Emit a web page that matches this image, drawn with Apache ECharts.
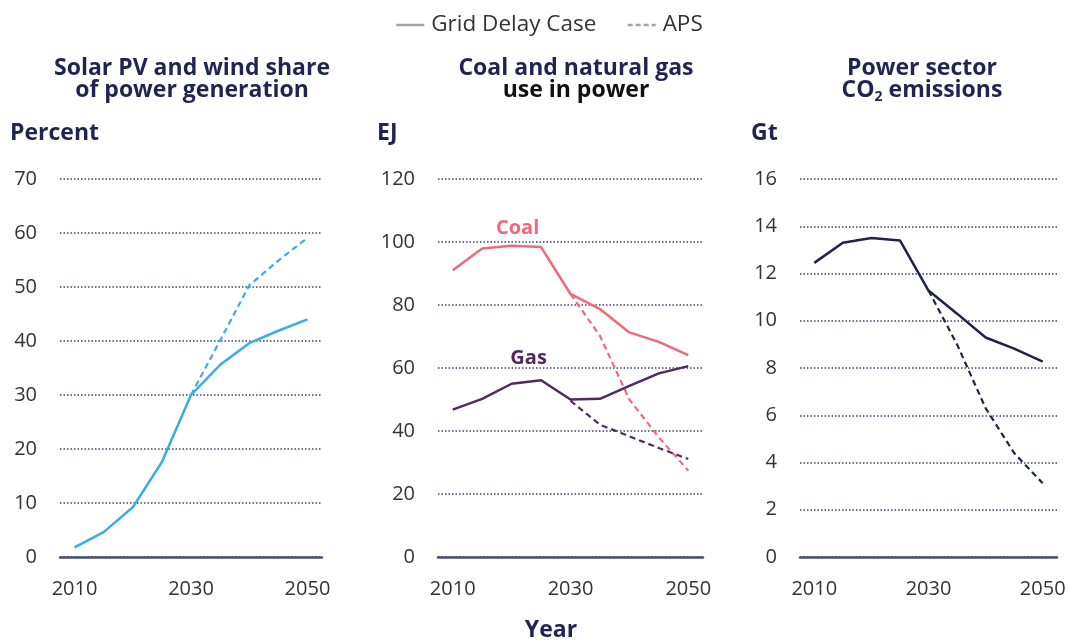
<!DOCTYPE html>
<html><head><meta charset="utf-8">
<script src="https://cdn.jsdelivr.net/npm/echarts@6/dist/echarts.min.js"></script>
<style>html,body{margin:0;padding:0;background:#fff}#c{width:1073px;height:641px}</style>
</head><body><div id="c"></div>
<script>
var years = ['2010','2015','2020','2025','2030','2035','2040','2045','2050'];
var solarGrid = [1.8, 4.6, 9.2, 17.6, 30.0, 35.6, 39.6, 41.9, 44.0];
var solarAPS  = [null, null, null, null, 30.0, 40.1, 50.3, 54.9, 59.1];
var coalGrid  = [91.0, 97.9, 98.8, 98.4, 83.5, 78.7, 71.3, 68.3, 64.1];
var coalAPS   = [null, null, null, null, 83.5, 70.2, 50.0, 38.0, 27.4];
var gasGrid   = [46.8, 50.2, 55.0, 56.1, 50.0, 50.2, 54.3, 58.3, 60.6];
var gasAPS    = [null, null, null, null, 49.6, 42.0, 38.3, 34.6, 31.1];
var co2Grid   = [12.45, 13.3, 13.5, 13.4, 11.28, 10.3, 9.29, 8.82, 8.27];
var co2APS    = [null, null, null, null, 11.28, 9.0, 6.3, 4.4, 3.12];
var yTicks1 = {min:0, max:70, interval:10};
var yTicks2 = {min:0, max:120, interval:20};
var yTicks3 = {min:0, max:16, interval:2};

var FONT = 'Open Sans';
var NAVY = '#1f2451';
var C_SOLAR = '#3aaee3', C_COAL = '#f0697a', C_GAS = '#4d2a5f', C_CO2 = '#1f2447';

var chart = echarts.init(document.getElementById('c'), null, {renderer:'canvas'});

var grids = [
  {left:60, width:262, top:179, bottom:84},
  {left:438, width:265, top:179, bottom:84},
  {left:800, width:257, top:179, bottom:84}
];
function xAxis(i){
  return {type:'category', gridIndex:i, data:years, boundaryGap:true,
    axisLine:{show:true, lineStyle:{color:'#4a4e70', width:2.5}},
    axisTick:{show:false},
    axisLabel:{interval:3, margin:22, color:'#333', fontFamily:FONT, fontSize:20},
    splitLine:{show:false}};
}
function yAxis(i, t){
  return {type:'value', gridIndex:i, min:t.min, max:t.max, interval:t.interval,
    axisLine:{show:false}, axisTick:{show:false},
    axisLabel:{margin:23, color:'#333', fontFamily:FONT, fontSize:20},
    splitLine:{show:true, lineStyle:{color:'#3c4170', width:1.5, type:[1.5,2]}}};
}
function solid(data, color, idx, mark){
  var s = {type:'line', name:'Grid Delay Case', xAxisIndex:idx, yAxisIndex:idx, data:data,
    symbol:'none', lineStyle:{color:color, width:2.5}, itemStyle:{color:color}, z:3};
  if (mark) s.markPoint = mark;
  return s;
}
function dashed(data, color, idx){
  return {type:'line', name:'APS', xAxisIndex:idx, yAxisIndex:idx, data:data,
    symbol:'none', lineStyle:{color:color, width:2.2, type:[6,4]}, itemStyle:{color:color}, z:2};
}
function seriesLabel(arr, idx, text, color, offset, dist){
  return {symbol:'circle', symbolSize:0, silent:true, animation:false,
    data:[{coord:[years[idx], arr[idx]], value:text,
      label:{show:true, formatter:text, position:'top', distance:dist, offset:offset,
        color:color, fontFamily:FONT, fontWeight:'bold', fontSize:20}}]};
}

var titleStyle = {fontFamily:FONT, fontWeight:'bold', fontSize:23, color:NAVY, lineHeight:22};
function T(o){ o.padding = 0; return o; }
var hidden = {color:'rgba(0,0,0,0)', borderWidth:0, borderColor:'rgba(0,0,0,0)'};
var option = {
  backgroundColor:'#fff',
  animation:false,
  legend:{
    top:7, left:390, itemWidth:28, itemHeight:14, itemGap:30,
    textStyle:{fontFamily:FONT, fontSize:22.5, color:'#333', lineHeight:26, padding:[0,0,0,2]},
    data:[
      {name:'Grid Delay Case', itemStyle:hidden, lineStyle:{color:'#a3a3a3', width:2.5, type:'solid'}},
      {name:'APS', itemStyle:hidden, lineStyle:{color:'#a3a3a3', width:2.5, type:[5,3]}}
    ]
  },
  title:[
    T({text:'Solar PV and wind share\nof power generation', left:192, top:57, textAlign:'center', textStyle:titleStyle}),
    T({text:'{a|Coal and natural gas}\n{b|use in power}', left:576, top:57, textAlign:'center',
      textStyle:{rich:{a:titleStyle, b:{fontFamily:FONT, fontWeight:'bold', fontSize:23, color:'#111', lineHeight:22}}}}),
    T({text:'{a|Power sector}\n{a|CO}{s|2}{a| emissions}', left:922, top:57, textAlign:'center',
      textStyle:{rich:{a:titleStyle, s:{fontFamily:FONT, fontWeight:'bold', fontSize:14, color:NAVY, lineHeight:22, padding:[14,0,0,0]}}}}),
    T({text:'Percent', left:10, top:122, textStyle:titleStyle}),
    T({text:'EJ', left:377, top:122, textStyle:titleStyle}),
    T({text:'Gt', left:751, top:122, textStyle:titleStyle}),
    T({text:'Year', left:551, top:619, textAlign:'center', textStyle:titleStyle})
  ],
  grid:grids,
  xAxis:[xAxis(0), xAxis(1), xAxis(2)],
  yAxis:[yAxis(0,yTicks1), yAxis(1,yTicks2), yAxis(2,yTicks3)],
  series:[
    solid(solarGrid, C_SOLAR, 0),
    dashed(solarAPS, C_SOLAR, 0),
    solid(coalGrid, C_COAL, 1, seriesLabel(coalGrid, 2, 'Coal', C_COAL, [6,0], 7)),
    dashed(coalAPS, C_COAL, 1),
    solid(gasGrid, C_GAS, 1, seriesLabel(gasGrid, 2, 'Gas', C_GAS, [17,0], 15)),
    dashed(gasAPS, C_GAS, 1),
    solid(co2Grid, C_CO2, 2),
    dashed(co2APS, C_CO2, 2)
  ]
};
chart.setOption(option);
</script></body></html>
